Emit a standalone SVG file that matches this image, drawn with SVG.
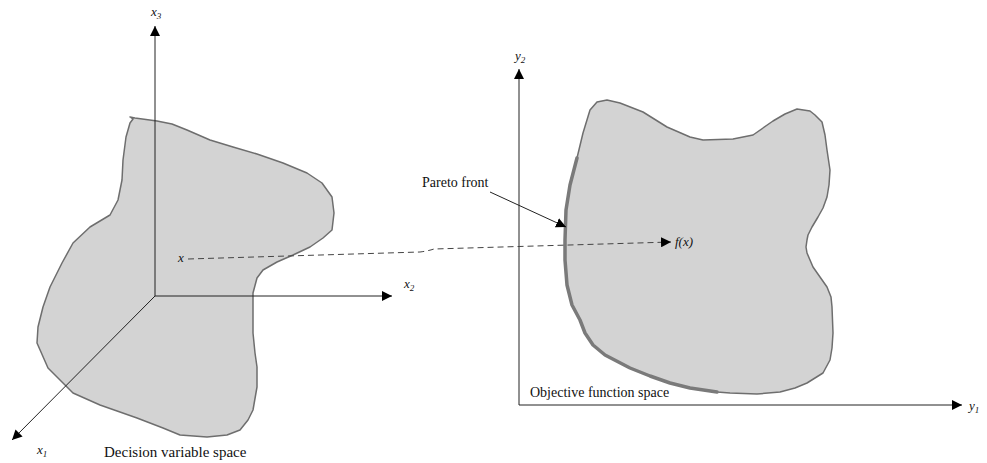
<svg xmlns="http://www.w3.org/2000/svg" width="987" height="463" viewBox="0 0 987 463">
<style>
.region{fill:#d3d3d3;stroke:#6e6e6e;stroke-width:1.5;stroke-linejoin:round}
.axis{stroke:#222;stroke-width:1;fill:none}
text{font-family:"Liberation Serif","Times New Roman",serif;fill:#111}
.lbl{font-style:italic;font-size:13px}
.cap{font-size:14px}
.sub{font-size:9px}
</style>
<defs>
<marker id="ah" markerUnits="userSpaceOnUse" markerWidth="12" markerHeight="10" refX="10" refY="5" orient="auto">
<path d="M0,0 L10,5 L0,10 Z" fill="#000"/>
</marker>
</defs>
<rect width="987" height="463" fill="#fff"/>
<g id="decision-region">
<path class="region" d="M130,117 L135,118 L157,121 L172,124 L187,130 L210,140 L233,147 L257,154 L283,163 L307,173 L322,183 L332,197 L334,213 L332,230 L323,238 L310,247 L293,255 L277,262 L263,270 L257,278 L253,293 L253,333 L255,353 L257,367 L257,387 L253,410 L248,420 L240,430 L227,435 L207,437 L180,435 L163,428 L137,418 L100,405 L73,393 L48,368 L37,343 L38,327 L43,307 L50,287 L62,263 L73,243 L90,227 L110,215 L118,200 L122,180 L123,160 L126,137 L130,123 L133,119 Z"/>
</g>
<g id="objective-region">
<path class="region" d="M597,102 L607,100 L620,103 L643,112 L667,127 L690,137 L703,140 L733,139 L753,135 L773,121 L785,114 L797,109 L810,111 L815,115 L822,122 L825,135 L827,150 L830,170 L829,185 L827,197 L823,208 L818,217 L812,227 L808,235 L807,240 L806,247 L807,253 L813,267 L820,277 L827,287 L831,297 L832,307 L833,333 L832,348 L830,360 L823,373 L815,378 L807,383 L795,388 L780,392 L757,394 L730,393 L717,392 L690,388 L670,383 L650,376 L630,368 L605,355 L593,345 L585,333 L580,320 L572,305 L567,285 L565,260 L565,240 L566,210 L570,185 L577,158 L583,133 L590,110 Z"/>
</g>
<g id="pareto-front">
<path d="M577,158 L570,185 L566,210 L565,240 L565,260 L567,285 L572,305 L580,320 L585,333 L593,345 L605,355 L630,368 L650,376 L670,383 L690,388 L717,392" fill="none" stroke="#7a7a7a" stroke-width="3.5" stroke-linejoin="round" stroke-linecap="round"/>
</g>
<g id="connectors">
<line class="axis" x1="155" y1="296" x2="155" y2="26" marker-end="url(#ah)"/>
<line class="axis" x1="155" y1="296" x2="392" y2="296" marker-end="url(#ah)"/>
<line class="axis" x1="155" y1="296" x2="12" y2="440" marker-end="url(#ah)"/>
<line class="axis" x1="519" y1="405" x2="519" y2="69" marker-end="url(#ah)"/>
<line class="axis" x1="519" y1="405" x2="962" y2="405" marker-end="url(#ah)"/>
<line class="axis" x1="490" y1="192" x2="566" y2="227" marker-end="url(#ah)"/>
<path d="M188,259 L420,252 Q428,251 434,249 L671,242" fill="none" stroke="#444" stroke-width="1" stroke-dasharray="6,4" marker-end="url(#ah)"/>
</g>
<g id="labels">
<text class="lbl" x="151" y="16">x<tspan class="sub" dy="3">3</tspan></text>
<text class="lbl" x="404" y="288">x<tspan class="sub" dy="3">2</tspan></text>
<text class="lbl" x="37" y="454">x<tspan class="sub" dy="3">1</tspan></text>
<text class="lbl" x="515" y="60">y<tspan class="sub" dy="3">2</tspan></text>
<text class="lbl" x="969" y="410">y<tspan class="sub" dy="3">1</tspan></text>
<text class="lbl" x="178" y="262">x</text>
<text class="lbl" x="675" y="246" font-size="14">f(x)</text>
<text class="cap" x="422" y="187">Pareto front</text>
<text class="cap" x="104" y="457" font-size="15" style="font-size:15px">Decision variable space</text>
<text class="cap" x="530" y="397">Objective function space</text>
</g>
</svg>
